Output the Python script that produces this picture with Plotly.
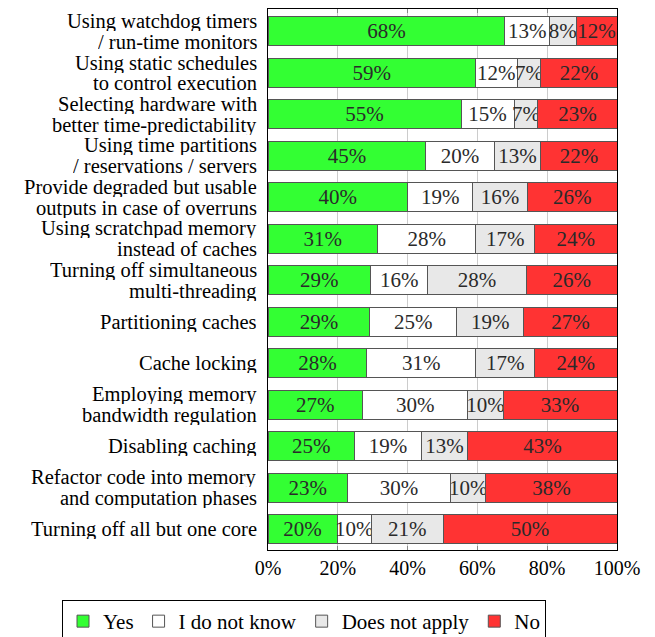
import plotly.graph_objects as go

categories = [
    "Using watchdog timers<br>/ run-time monitors",
    "Using static schedules<br>to control execution",
    "Selecting hardware with<br>better time-predictability",
    "Using time partitions<br>/ reservations / servers",
    "Provide degraded but usable<br>outputs in case of overruns",
    "Using scratchpad memory<br>instead of caches",
    "Turning off simultaneous<br>multi-threading",
    "Partitioning caches",
    "Cache locking",
    "Employing memory<br>bandwidth regulation",
    "Disabling caching",
    "Refactor code into memory<br>and computation phases",
    "Turning off all but one core",
]

yes = [67.9, 59.4, 55.3, 45.2, 40.0, 31.4, 29.4, 29.2, 28.3, 27.1, 24.8, 22.8, 19.8]
dont_know = [12.7, 12.0, 15.2, 19.6, 18.7, 28.1, 16.4, 24.8, 31.2, 30.2, 19.1, 29.5, 9.8]
not_apply = [7.7, 6.8, 6.8, 13.4, 15.6, 16.9, 28.2, 19.3, 16.9, 10.1, 13.4, 10.1, 20.6]
no = [11.7, 21.8, 22.7, 21.8, 25.7, 23.6, 26.0, 26.7, 23.6, 32.6, 42.7, 37.6, 49.8]

x_ticks = [0, 20, 40, 60, 80, 100]
x_tick_labels = ["0%", "20%", "40%", "60%", "80%", "100%"]

series = [
    ("Yes", yes, "#33FF33"),
    ("I do not know", dont_know, "#FFFFFF"),
    ("Does not apply", not_apply, "#E8E8E8"),
    ("No", no, "#FF3333"),
]

FONT = "Liberation Serif"

fig = go.Figure()
for name, vals, color in series:
    fig.add_trace(go.Bar(
        name=name,
        y=categories,
        x=vals,
        orientation="h",
        marker=dict(color=color, line=dict(color="#555555", width=1)),
        texttemplate="%{x:.0f}%",
        textposition="inside",
        insidetextanchor="middle",
        constraintext="none",
        textangle=0,
        textfont=dict(family=FONT, size=21, color="#2a2a2a"),
        width=0.69,
        hoverinfo="skip",
    ))

# category labels drawn as annotations on the category axis (tight line spacing)
annotations = []
for cat in categories:
    lines = cat.split("<br>")
    shifts = [0] if len(lines) == 1 else [10.3, -10.3]
    for line, dy in zip(lines, shifts):
        annotations.append(dict(
            x=0, xref="paper", xanchor="right", xshift=-9,
            y=cat, yref="y", yanchor="middle", yshift=dy,
            height=20, valign="middle", align="right",
            text=line, showarrow=False,
            font=dict(family=FONT, size=20.5, color="black"),
        ))

fig.update_layout(
    barmode="stack",
    width=647,
    height=629,
    margin=dict(l=260, r=38, t=1, b=87, autoexpand=False),
    plot_bgcolor="white",
    paper_bgcolor="white",
    font=dict(family=FONT, size=20, color="black"),
    showlegend=True,
    annotations=annotations,
    legend=dict(
        orientation="h",
        xref="paper", yref="paper",
        x=(62 - 268) / 349, xanchor="left",
        y=-(600 - 550) / 541, yanchor="top",
        bgcolor="white",
        bordercolor="black",
        borderwidth=1,
        font=dict(family=FONT, size=21, color="black"),
        traceorder="normal",
        tracegroupgap=0,
    ),
)

fig.update_xaxes(
    range=[0, 100],
    tickvals=x_ticks,
    ticktext=x_tick_labels,
    showgrid=True,
    gridcolor="#CCCCCC",
    gridwidth=1,
    showline=True,
    linecolor="black",
    linewidth=1,
    mirror="allticks",
    ticks="inside",
    ticklen=4,
    tickcolor="#888888",
    zeroline=False,
    tickfont=dict(family=FONT, size=20, color="black"),
)
fig.update_yaxes(
    autorange="reversed",
    showline=True,
    linecolor="black",
    linewidth=1,
    mirror=True,
    showgrid=False,
    ticks="",
    showticklabels=False,
)

fig.write_html("out.html")
